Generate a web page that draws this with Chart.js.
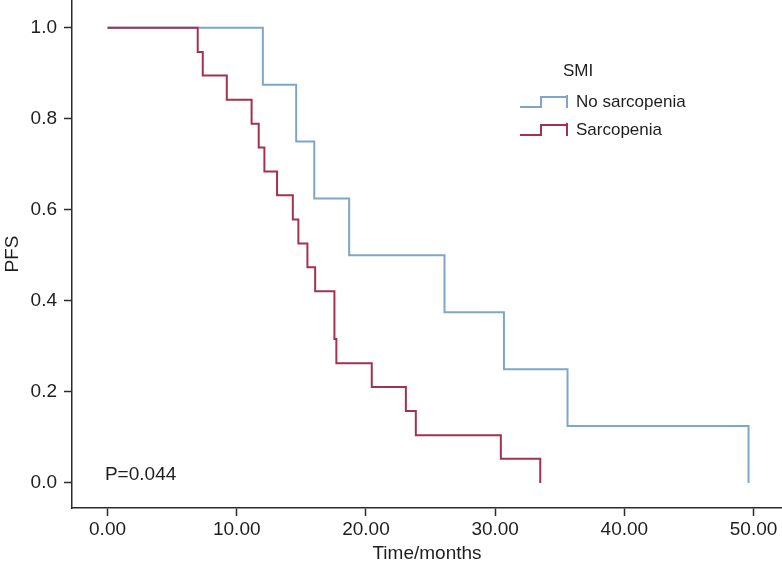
<!DOCTYPE html>
<html lang="en">
<head>
    <meta charset="UTF-8" />
    <title>PFS by SMI</title>
    <script src="https://cdn.jsdelivr.net/npm/chart.js"></script>
    <style>
        body {
            margin: 0;
            padding: 0;
            background: #fff;
        }
        canvas {
            display: block;
        }
    </style>
</head>
<body>
    <canvas id="kmChart" width="782" height="570"></canvas>

    <script>
        // Kaplan-Meier steps (time in months, survival fraction)
        const noSarcTimes = [0, 12.02, 14.6, 16.0, 18.7, 26.08, 30.68, 35.6, 49.61];
        const noSarcPfs = [1.0, 0.875, 0.75, 0.625, 0.5, 0.375, 0.25, 0.125, 0.0];

        const sarcTimes = [0, 6.98, 7.37, 9.23, 11.15, 11.7, 12.14, 13.12, 14.34, 14.77, 15.47, 16.07, 17.56, 17.71, 20.45, 23.09, 23.86, 30.44, 33.49];
        const sarcPfs = [1.0, 0.947, 0.895, 0.842, 0.789, 0.737, 0.684, 0.632, 0.579, 0.526, 0.474, 0.421, 0.316, 0.263, 0.211, 0.158, 0.105, 0.053, 0.0];

        const xTickValues = [0, 10, 20, 30, 40, 50];
        const yTickValues = [0, 0.2, 0.4, 0.6, 0.8, 1.0];

        const groupLabels = ["No sarcopenia", "Sarcopenia"];
        const legendTitle = "SMI";
        const pValueText = "P=0.044";

        const blue = "#7fa6c8";
        const red = "#a3324f";
        const axisColor = "#2b2b2b";
        const textColor = "#1e1e1e";
        const fontFamily = "'Liberation Sans', Arial, sans-serif";

        function toPoints(times, values) {
            return times.map((t, i) => ({ x: t, y: values[i] }));
        }

        // legend with step icons + p value text
        const annotations = {
            id: "annotations",
            afterDatasetsDraw(chart) {
                const ctx = chart.ctx;
                ctx.save();
                ctx.fillStyle = textColor;
                ctx.textBaseline = "middle";
                ctx.textAlign = "left";

                ctx.font = "17px " + fontFamily;
                ctx.fillText(legendTitle, 563, 71);

                const rows = [
                    { label: groupLabels[0], color: blue, y: 102 },
                    { label: groupLabels[1], color: red, y: 130 },
                ];
                rows.forEach((r) => {
                    ctx.strokeStyle = r.color;
                    ctx.lineWidth = 2;
                    ctx.beginPath();
                    ctx.moveTo(520, r.y + 5);
                    ctx.lineTo(541, r.y + 5);
                    ctx.lineTo(541, r.y - 5);
                    ctx.lineTo(567, r.y - 5);
                    ctx.moveTo(567, r.y - 7);
                    ctx.lineTo(567, r.y + 6);
                    ctx.stroke();
                    ctx.fillStyle = textColor;
                    ctx.fillText(r.label, 576, r.y);
                });

                const xs = chart.scales.x;
                const ys = chart.scales.y;
                ctx.font = "19px " + fontFamily;
                ctx.fillText(pValueText, xs.getPixelForValue(-0.2), ys.getPixelForValue(0.018));
                ctx.restore();
            },
        };

        const ctx = document.getElementById("kmChart").getContext("2d");
        const kmChart = new Chart(ctx, {
            type: "line",
            data: {
                datasets: [
                    {
                        label: groupLabels[0],
                        data: toPoints(noSarcTimes, noSarcPfs),
                        borderColor: blue,
                        borderWidth: 2,
                        stepped: true,
                        pointRadius: 0,
                        fill: false,
                        order: 2,
                    },
                    {
                        label: groupLabels[1],
                        data: toPoints(sarcTimes, sarcPfs),
                        borderColor: red,
                        borderWidth: 2,
                        stepped: true,
                        pointRadius: 0,
                        fill: false,
                        order: 1,
                    },
                ],
            },
            options: {
                responsive: false,
                animation: false,
                layout: { padding: 0 },
                plugins: {
                    legend: { display: false },
                    tooltip: { enabled: false },
                },
                scales: {
                    x: {
                        type: "linear",
                        min: -2.75,
                        max: 52.2,
                        afterFit(scale) {
                            scale.height = 62;
                            scale.paddingLeft = 0;
                            scale.paddingRight = 0;
                        },
                        afterBuildTicks(scale) {
                            scale.ticks = xTickValues.map((v) => ({ value: v }));
                        },
                        border: { display: true, color: axisColor, width: 1.5 },
                        grid: {
                            drawOnChartArea: false,
                            drawTicks: true,
                            tickLength: 8,
                            tickColor: axisColor,
                            tickWidth: 1.5,
                        },
                        ticks: {
                            autoSkip: false,
                            maxRotation: 0,
                            padding: 2,
                            color: textColor,
                            font: { family: fontFamily, size: 19 },
                            callback: (v) => Number(v).toFixed(2),
                        },
                        title: {
                            display: true,
                            text: "Time/months",
                            color: textColor,
                            font: { family: fontFamily, size: 19 },
                            padding: { top: 0, bottom: 5 },
                        },
                    },
                    y: {
                        type: "linear",
                        min: -0.055,
                        max: 1.061,
                        afterFit(scale) {
                            scale.width = 72;
                            scale.paddingTop = 0;
                            scale.paddingBottom = 0;
                        },
                        afterBuildTicks(scale) {
                            scale.ticks = yTickValues.map((v) => ({ value: v }));
                        },
                        border: { display: true, color: axisColor, width: 1.5 },
                        grid: {
                            drawOnChartArea: false,
                            drawTicks: true,
                            tickLength: 8,
                            tickColor: axisColor,
                            tickWidth: 1.5,
                        },
                        ticks: {
                            autoSkip: false,
                            padding: 7,
                            color: textColor,
                            font: { family: fontFamily, size: 19 },
                            callback: (v) => Number(v).toFixed(1),
                        },
                        title: {
                            display: true,
                            text: "PFS",
                            color: textColor,
                            font: { family: fontFamily, size: 19 },
                            padding: { top: 1, bottom: 0 },
                        },
                    },
                },
            },
            plugins: [annotations],
        });
    </script>
</body>
</html>
